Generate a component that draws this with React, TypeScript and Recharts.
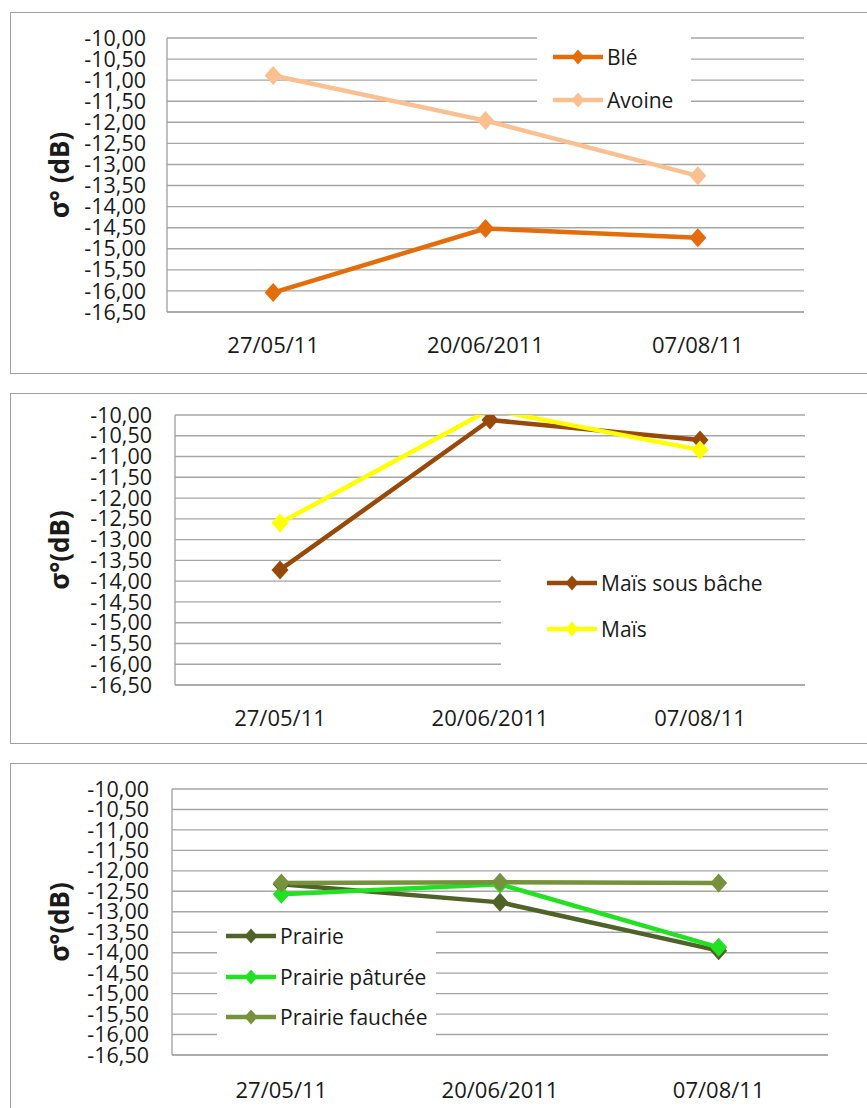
import { CartesianGrid, Legend, Line, LineChart, XAxis, YAxis } from 'recharts'

// sampling dates (x categories)
const DATES = ['27/05/11', '20/06/2011', '07/08/11']
const Y_TICKS = [-16.5, -16, -15.5, -15, -14.5, -14, -13.5, -13, -12.5, -12, -11.5, -11, -10.5, -10]
const Y_MIN = -16.5
const Y_MAX = -10

// σ° values in dB
const BLE = [-16.04, -14.52, -14.74]
const AVOINE = [-10.89, -11.96, -13.27]
const MAIS_BACHE = [-13.73, -10.12, -10.6]
const MAIS = [-12.6, -9.87, -10.84]
const PRAIRIE = [-12.33, -12.77, -13.95]
const PRAIRIE_PATUREE = [-12.57, -12.33, -13.87]
const PRAIRIE_FAUCHEE = [-12.3, -12.28, -12.3]

const FONT = '"Open Sans", sans-serif'
const GRID = '#a6a6a6'
const TEXT = '#1a1a1a'
const PAGE_W = 867

type Serie = { key: string; name: string; color: string; values: number[] }

const CEREALES: Serie[] = [
  { key: 'ble', name: 'Blé', color: '#e46c0a', values: BLE },
  { key: 'avoine', name: 'Avoine', color: '#fac090', values: AVOINE },
]
const MAIS_SERIES: Serie[] = [
  { key: 'maisBache', name: 'Maïs sous bâche', color: '#984807', values: MAIS_BACHE },
  { key: 'mais', name: 'Maïs', color: '#ffff00', values: MAIS },
]
const PRAIRIES: Serie[] = [
  { key: 'prairie', name: 'Prairie', color: '#4f6228', values: PRAIRIE },
  { key: 'paturee', name: 'Prairie pâturée', color: '#22e022', values: PRAIRIE_PATUREE },
  { key: 'fauchee', name: 'Prairie fauchée', color: '#76923c', values: PRAIRIE_FAUCHEE },
]

const toRows = (series: Serie[]) =>
  DATES.map((date, i) => {
    const row: Record<string, string | number> = { date }
    series.forEach((s) => (row[s.key] = s.values[i]))
    return row
  })

const fmt = (v: number) => v.toFixed(2).replace('.', ',')

const diamond = (color: string, dataKey: string) => (props: any) => {
  const { cx, cy, index, payload } = props
  const v = payload?.[dataKey]
  if (cx == null || cy == null || v > Y_MAX) return <g key={`d-${dataKey}-${index}`} />
  return (
    <path
      key={`d-${dataKey}-${index}`}
      d={`M${cx},${cy - 9.5} L${cx + 8.5},${cy} L${cx},${cy + 9.5} L${cx - 8.5},${cy} Z`}
      fill={color}
    />
  )
}

interface PanelProps {
  top: number
  bottom: number
  plot: { left: number; right: number; top: number; bottom: number }
  tickGap: number
  xGap: number
  yLabel: string
  series: Serie[]
  legend: { left: number; top: number; width: number; height: number; iconLeft: number; textLeft: number; rows: number[] }
}

function Panel({ top, bottom, plot, tickGap, xGap, yLabel, series, legend }: PanelProps) {
  const height = bottom - top
  const xAxisH = 40
  const plotW = plot.right - plot.left
  const pad = plotW / 6
  const labelY = (plot.top + plot.bottom) / 2 - top

  return (
    <>
      <div
        style={{
          position: 'absolute',
          left: 10,
          top,
          width: 870,
          height,
          border: '1px solid #a0a0a0',
          boxSizing: 'border-box',
        }}
      />
      <div style={{ position: 'absolute', left: 0, top }}>
        <LineChart
          width={PAGE_W}
          height={height}
          data={toRows(series)}
          margin={{ top: plot.top - top, left: 0, right: PAGE_W - plot.right, bottom: bottom - plot.bottom - xAxisH }}
        >
          <CartesianGrid vertical={false} stroke={GRID} strokeWidth={1.4} />
          <XAxis
            dataKey="date"
            height={xAxisH}
            padding={{ left: pad, right: pad }}
            axisLine={{ stroke: GRID, strokeWidth: 1.4 }}
            tickLine={false}
            tickSize={0}
            tickMargin={xGap}
            tick={{ fontSize: 22, fill: TEXT, fontFamily: FONT }}
          />
          <YAxis
            type="number"
            domain={[Y_MIN, Y_MAX]}
            ticks={Y_TICKS}
            interval={0}
            allowDataOverflow
            width={plot.left}
            axisLine={{ stroke: GRID, strokeWidth: 1.4 }}
            tickLine={false}
            tickSize={0}
            tickMargin={tickGap}
            tickFormatter={fmt}
            tick={{ fontSize: 21.5, fill: TEXT, fontFamily: FONT }}
            label={() => (
              <text
                x={59}
                y={labelY}
                transform={`rotate(-90 59 ${labelY})`}
                textAnchor="middle"
                dominantBaseline="central"
                fontFamily={FONT}
                fontWeight="bold"
                fontSize={26}
                fill={TEXT}
              >
                {yLabel}
              </text>
            )}
          />
          <Legend
            layout="vertical"
            align="center"
            verticalAlign="middle"
            wrapperStyle={{
              position: 'absolute',
              left: legend.left,
              top: legend.top - top,
              width: legend.width,
              height: legend.height,
              bottom: 'auto',
              right: 'auto',
              background: '#fff',
            }}
            content={() => (
              <div style={{ position: 'relative', width: legend.width, height: legend.height }}>
                {series.map((s, i) => (
                  <div
                    key={s.key}
                    style={{ position: 'absolute', left: 0, top: legend.rows[i] - 15, height: 30, width: legend.width }}
                  >
                    <svg
                      width={50}
                      height={20}
                      style={{ position: 'absolute', left: legend.iconLeft, top: 5 }}
                    >
                      <line x1={0} y1={10} x2={50} y2={10} stroke={s.color} strokeWidth={4.5} />
                      <path d="M25,2.5 L31.5,10 L25,17.5 L18.5,10 Z" fill={s.color} />
                    </svg>
                    <span
                      style={{
                        position: 'absolute',
                        left: legend.textLeft,
                        top: 0,
                        lineHeight: '30px',
                        fontFamily: FONT,
                        fontSize: 21,
                        color: TEXT,
                        whiteSpace: 'nowrap',
                      }}
                    >
                      {s.name}
                    </span>
                  </div>
                ))}
              </div>
            )}
          />
          {series.map((s) => (
            <Line
              key={s.key}
              dataKey={s.key}
              name={s.name}
              stroke={s.color}
              strokeWidth={4.5}
              dot={diamond(s.color, s.key)}
              activeDot={false}
              isAnimationActive={false}
            />
          ))}
        </LineChart>
      </div>
    </>
  )
}

export default function App() {
  return (
    <div
      style={{
        position: 'absolute',
        left: 0,
        top: 0,
        width: PAGE_W,
        height: 1108,
        background: '#fff',
        overflow: 'hidden',
      }}
    >
      <Panel
        top={12}
        bottom={374}
        plot={{ left: 167, right: 804, top: 38, bottom: 312 }}
        tickGap={21}
        xGap={25}
        yLabel="σ° (dB)"
        series={CEREALES}
        legend={{ left: 537, top: 34, width: 154, height: 78, iconLeft: 16, textLeft: 70, rows: [23, 66] }}
      />
      <Panel
        top={393}
        bottom={744}
        plot={{ left: 175, right: 805, top: 415, bottom: 685 }}
        tickGap={23}
        xGap={25}
        yLabel="σ°(dB)"
        series={MAIS_SERIES}
        legend={{ left: 501, top: 545, width: 312, height: 125, iconLeft: 46, textLeft: 100, rows: [38, 84] }}
      />
      <Panel
        top={763}
        bottom={1112}
        plot={{ left: 172, right: 828, top: 789, bottom: 1055 }}
        tickGap={23}
        xGap={27}
        yLabel="σ°(dB)"
        series={PRAIRIES}
        legend={{ left: 217, top: 916, width: 219, height: 129, iconLeft: 9, textLeft: 63, rows: [20, 61, 101] }}
      />
    </div>
  )
}
